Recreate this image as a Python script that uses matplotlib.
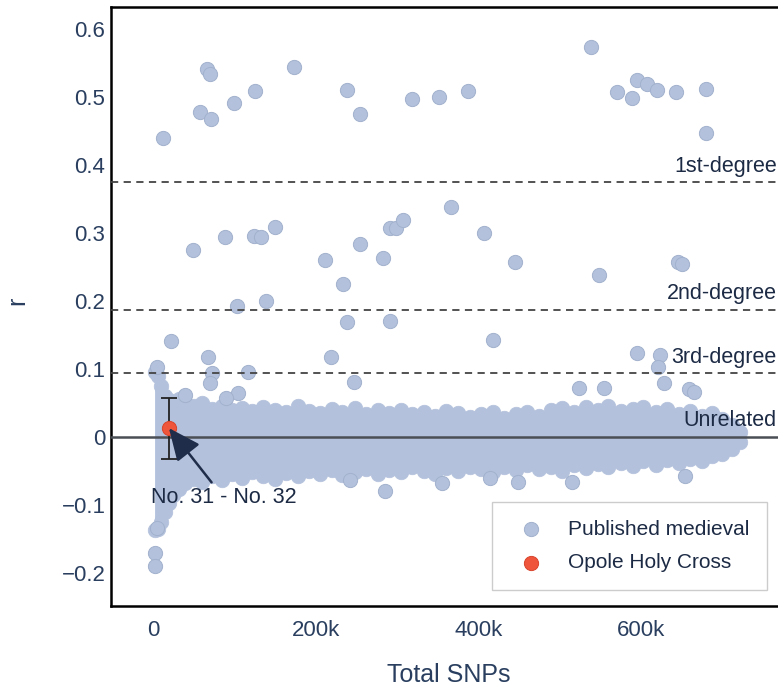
import matplotlib.pyplot as plt

# published medieval pairs, outliers (total SNPs in thousands, r)
pub_x = [12.6, 66.7, 70, 57.7, 70.8, 99.8, 125, 173, 239, 255, 318, 352, 387,
         539, 571, 589, 595, 608, 620, 643, 680, 680,
         49.5, 88.8, 124, 133, 150, 211, 234, 254, 283, 291, 299, 307, 366, 407,
         445, 548, 645, 651,
         103, 139.5, 238, 291, 22, 417.5,
         68, 219, 117, 247, 4.5, 72, 70, 105, 90, 39, 595.5, 624, 621, 628,
         524, 555, 659, 665,
         285, 4.5, 2.5, 2.5, 356, 449, 515, 654, 415, 242]
pub_r = [0.440, 0.541, 0.535, 0.478, 0.468, 0.491, 0.510, 0.545, 0.511, 0.475, 0.498, 0.500, 0.510,
         0.574, 0.508, 0.4995, 0.525, 0.520, 0.511, 0.508, 0.512, 0.4475,
         0.2745, 0.2936, 0.296, 0.294, 0.309, 0.260, 0.225, 0.284, 0.264, 0.308, 0.308, 0.319, 0.339, 0.300,
         0.257, 0.238, 0.258, 0.254,
         0.193, 0.200, 0.169, 0.171, 0.141, 0.1426,
         0.117, 0.118, 0.096, 0.081, 0.103, 0.094, 0.079, 0.064, 0.057, 0.062, 0.124, 0.1206, 0.103, 0.080,
         0.0725, 0.0716, 0.070, 0.0666,
         -0.080, -0.134, -0.171, -0.190, -0.068, -0.066, -0.067, -0.058, -0.061, -0.063]

# the dense cloud of unrelated pairs: upper / lower envelope of the points
band_x = [2, 6, 10, 15, 20, 25, 32, 40, 50, 60, 72, 85, 97, 110, 122, 135, 150, 163, 178, 192, 205,
          220, 233, 248, 262, 277, 290, 305, 318, 333, 347, 360, 375, 390, 403, 418, 432, 447,
          460, 475, 490, 503, 518, 532, 547, 560, 575, 590, 603, 618, 632, 647, 660, 675, 688,
          700, 712, 722]
band_top = [0.095, 0.090, 0.075, 0.060, 0.055, 0.050, 0.056, 0.052, 0.046, 0.050, 0.041, 0.046, 0.040,
            0.043, 0.038, 0.044, 0.040, 0.036, 0.045, 0.038, 0.035, 0.041, 0.036, 0.043, 0.034, 0.039,
            0.035, 0.040, 0.033, 0.037, 0.031, 0.038, 0.035, 0.029, 0.034, 0.037, 0.028, 0.033, 0.036,
            0.031, 0.039, 0.042, 0.036, 0.044, 0.040, 0.046, 0.038, 0.041, 0.044, 0.037, 0.041, 0.034,
            0.038, 0.031, 0.035, 0.026, 0.018, 0.007]
band_bot = [-0.137, -0.135, -0.125, -0.110, -0.098, -0.085, -0.076, -0.068, -0.062, -0.066, -0.058,
            -0.063, -0.055, -0.060, -0.052, -0.058, -0.062, -0.053, -0.057, -0.050, -0.055, -0.049,
            -0.056, -0.051, -0.047, -0.054, -0.049, -0.052, -0.045, -0.050, -0.054, -0.046, -0.050,
            -0.044, -0.048, -0.052, -0.045, -0.049, -0.042, -0.047, -0.044, -0.050, -0.041, -0.046,
            -0.040, -0.044, -0.038, -0.043, -0.036, -0.041, -0.034, -0.039, -0.033, -0.035, -0.028,
            -0.025, -0.018, -0.008]

# Opole Holy Cross pair
opole_x = [19.6]
opole_r = [0.013]
opole_err = [0.045]

thresholds = [0.375, 0.1875, 0.09375, 0.0]
threshold_labels = ['1st-degree', '2nd-degree', '3rd-degree', 'Unrelated']

xticks = [0, 200, 400, 600]
xtick_labels = ['0', '200k', '400k', '600k']
yticks = [-0.2, -0.1, 0, 0.1, 0.2, 0.3, 0.4, 0.5, 0.6]
ytick_labels = ['\u22120.2', '\u22120.1', '0', '0.1', '0.2', '0.3', '0.4', '0.5', '0.6']

plt.rcParams['font.family'] = ['Liberation Sans', 'DejaVu Sans']
txt = '#2a3f5f'
pub_col = '#b3c1dc'
pub_edge = '#a2b1cd'

fig = plt.figure(figsize=(7.78, 6.87), dpi=100)
ax = fig.add_axes([111 / 778, 81 / 687, 669 / 778, 599 / 687])

# cloud
ax.fill_between(band_x, band_bot, band_top, color=pub_col, lw=0, zorder=2)
ax.scatter(band_x, band_top, s=110, color=pub_col, edgecolor=pub_col, lw=0.5, zorder=2)
ax.scatter(band_x, band_bot, s=110, color=pub_col, edgecolor=pub_col, lw=0.5, zorder=2)
ax.scatter(pub_x, pub_r, s=105, color=pub_col, edgecolor=pub_edge, lw=0.7, zorder=3,
           label='Published medieval')

# threshold lines
for t, lab in zip(thresholds, threshold_labels):
    if t == 0:
        ax.axhline(t, color='#4a4f55', lw=1.8, zorder=4)
    else:
        ax.axhline(t, color='#444444', lw=1.3, ls=(0, (4, 3)), zorder=4)
    ax.text(767, t + 0.008, lab, ha='right', va='bottom', fontsize=15.5, color='#1c2a44', zorder=5)

ax.errorbar(opole_x, opole_r, yerr=opole_err, fmt='none', ecolor='#222222', elinewidth=1.3,
            capsize=6, capthick=1.3, zorder=5)
ax.scatter(opole_x, opole_r, s=105, color='#ef553b', edgecolor='#d8442c', lw=0.7, zorder=6,
           label='Opole Holy Cross')

ax.annotate('No. 31 - No. 32', xy=(opole_x[0], opole_r[0]), xytext=(87, -0.0897),
            ha='center', va='center', fontsize=15.5, color='#1c2a44',
            arrowprops=dict(arrowstyle='-|>,head_length=0.9,head_width=0.4', color='#1f2d4a',
                            lw=1.8, mutation_scale=22, shrinkA=2, shrinkB=0), zorder=7)

ax.set_xlim(-51.6, 771)
ax.set_ylim(-0.249, 0.633)
ax.set_xticks(xticks)
ax.set_xticklabels(xtick_labels)
ax.set_yticks(yticks)
ax.set_yticklabels(ytick_labels)
ax.tick_params(length=0, labelsize=16, labelcolor=txt)
ax.tick_params(axis='x', pad=10)
ax.tick_params(axis='y', pad=4)

for s in ['left', 'top', 'bottom']:
    ax.spines[s].set_color('black')
    ax.spines[s].set_linewidth(1.8)
ax.spines['right'].set_visible(False)

ax.set_xlabel('Total SNPs', fontsize=18, color=txt)
ax.xaxis.set_label_coords(0.505, -0.095)
ax.set_ylabel('r', fontsize=18, color=txt)
ax.yaxis.set_label_coords(-0.122, 0.51)

ax.legend(loc='upper left', bbox_to_anchor=(492 / 778, 1 - 502 / 687), bbox_transform=fig.transFigure,
          fontsize=15, frameon=True, fancybox=False, edgecolor='#cccccc', framealpha=1,
          borderpad=0.85, handletextpad=0.8, labelspacing=0.7, borderaxespad=0,
          labelcolor='#1c2a44')

fig.savefig('out.png', dpi=100)
